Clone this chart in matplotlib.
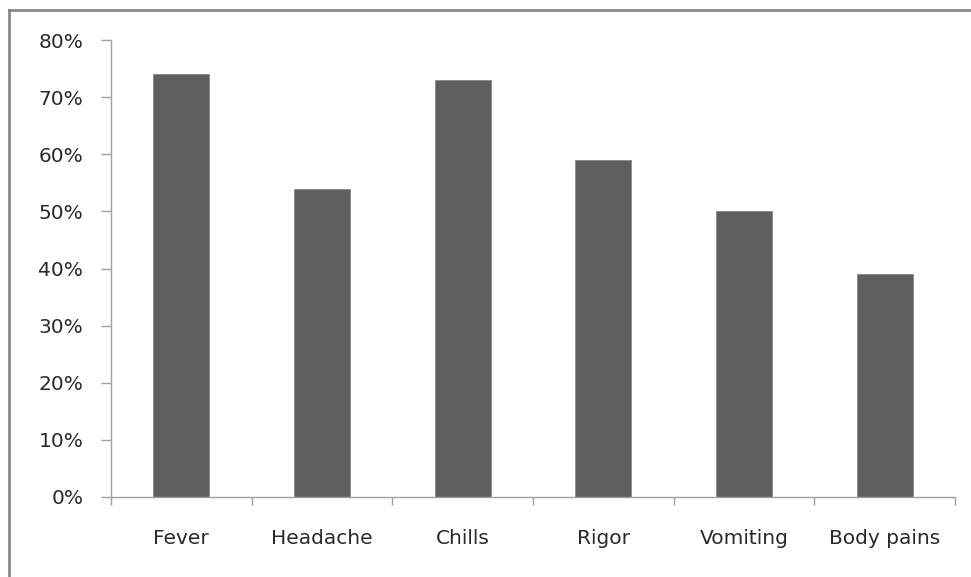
import matplotlib
matplotlib.use("Agg")
import matplotlib.pyplot as plt
from matplotlib.lines import Line2D
from matplotlib.ticker import FuncFormatter, MultipleLocator

categories = ["Fever", "Headache", "Chills", "Rigor", "Vomiting", "Body pains"]
percentages = [74, 54, 73, 59, 50, 39]

W, H = 971, 577
fig = plt.figure(figsize=(W / 100, H / 100), dpi=100)
plt.rcParams["font.family"] = ["DejaVu Sans"]

ax = fig.add_axes([111 / W, 1 - 497 / H, (955 - 111) / W, (497 - 40) / H])

x = list(range(len(categories)))
ax.bar(x, percentages, width=0.4, color="#5f5f5f", edgecolor="#8a8a8a", linewidth=0.6)

ax.set_xlim(-0.5, len(categories) - 0.5)
ax.set_ylim(0, 80)
ax.yaxis.set_major_locator(MultipleLocator(10))
ax.yaxis.set_major_formatter(FuncFormatter(lambda v, p: f"{v:.0f}%"))

# category labels centred, tick marks on category boundaries
ax.set_xticks(x)
ax.set_xticklabels(categories)
ax.set_xticks([i - 0.5 for i in range(len(categories) + 1)], minor=True)
ax.tick_params(axis="x", which="major", length=0, pad=23, labelsize=14.5, labelcolor="#2a2a2a")
ax.tick_params(axis="x", which="minor", length=6, width=1, color="#a0a0a0", direction="out")
ax.tick_params(axis="y", length=7, width=1, color="#a0a0a0", direction="out",
               labelsize=14.5, labelcolor="#2a2a2a", pad=13)

for side in ("top", "right"):
    ax.spines[side].set_visible(False)
for side in ("left", "bottom"):
    ax.spines[side].set_color("#a0a0a0")
    ax.spines[side].set_linewidth(1)

# outer frame (top and left edges)
fig.add_artist(Line2D([9 / W, 1], [1 - 10 / H, 1 - 10 / H], transform=fig.transFigure,
                      color="#8a8a8a", linewidth=2))
fig.add_artist(Line2D([9 / W, 9 / W], [0, 1 - 10 / H], transform=fig.transFigure,
                      color="#8a8a8a", linewidth=2))

fig.savefig("out.png", dpi=100, facecolor="white")
